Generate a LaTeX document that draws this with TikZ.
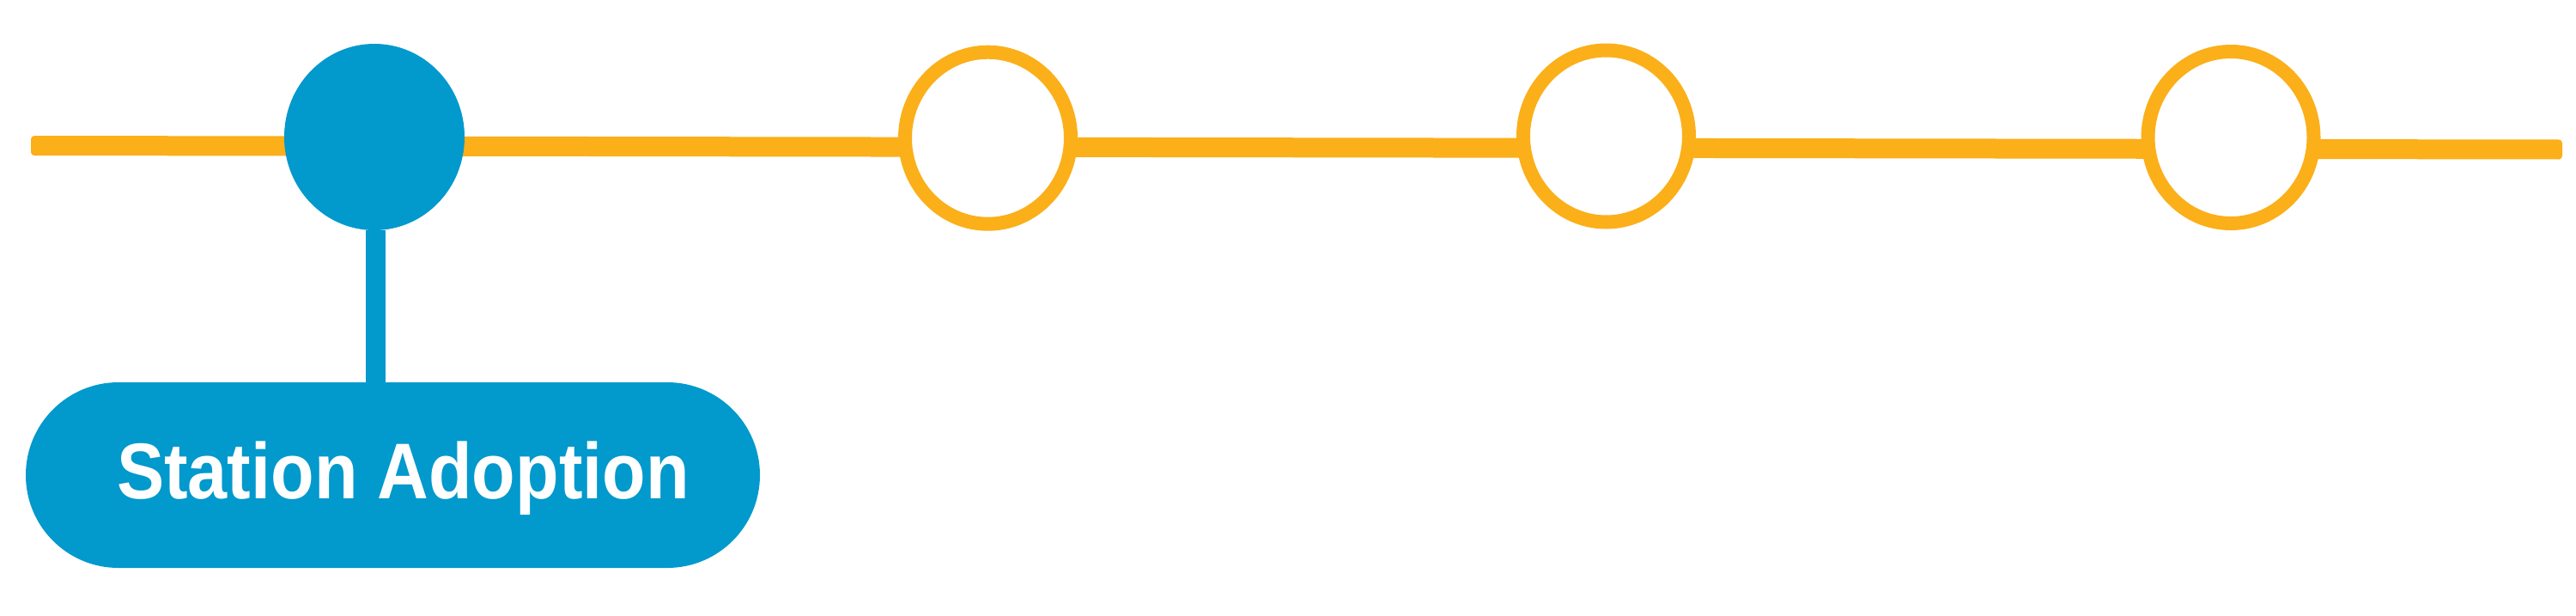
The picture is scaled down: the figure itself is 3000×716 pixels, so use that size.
\documentclass[tikz,border=0pt]{standalone}
\usepackage{fontspec}
\setmainfont{Liberation Sans}
\usetikzlibrary{shapes.geometric}
\definecolor{tlblue}{HTML}{0299CD}
\definecolor{tlorange}{HTML}{FBAF19}
\tikzset{
  track/.style={fill=tlorange, rounded corners=4pt},
  donestation/.style={ellipse, fill=tlblue, inner sep=0pt, minimum width=210pt, minimum height=217pt},
  openstation/.style={ellipse, fill=white, draw=tlorange, line width=16pt, inner sep=0pt, minimum width=193pt, minimum height=200pt},
  stem/.style={draw=tlblue, line width=23pt},
  pillbox/.style={fill=tlblue, rounded corners=108pt},
  pilltext/.style={text=white, font=\fontsize{92}{100}\selectfont\bfseries, inner sep=0pt, anchor=base}
}
\begin{document}
\begin{tikzpicture}[x=1pt,y=-1pt]
\useasboundingbox[fill=white] (0,0) rectangle (3000,716);
\coordinate (lstart) at (36,169.5);
\coordinate (lend) at (2984,174);
\fill[track] ([yshift=11.5pt]lstart) -- ([yshift=11.5pt]lend) -- ([yshift=-11.5pt]lend) -- ([yshift=-11.5pt]lstart) -- cycle;
\node[donestation] (c1) at (436,159.5) {};
\node[openstation] (c2) at (1150.5,160.7) {};
\node[openstation] (c3) at (1870.5,158.5) {};
\node[openstation] (c4) at (2598,160) {};
\fill[pillbox] (30,445) rectangle (885,661);
\node[inner sep=0pt, minimum width=855pt, minimum height=216pt] (pill) at (457.5,553) {};
\draw[stem] ([xshift=1.5pt]c1.south) -- ([xshift=1.5pt]c1.south |- pill.north);
\node[pilltext] (label) at (469.5,580) {\scalebox{0.9}[1]{Station Adoption}};
\end{tikzpicture}
\end{document}
